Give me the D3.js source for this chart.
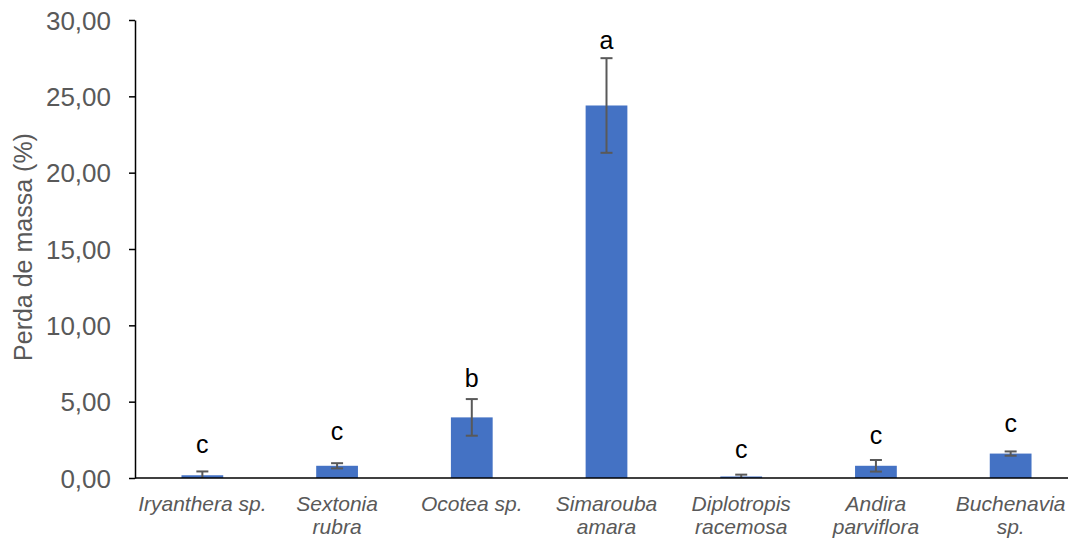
<!DOCTYPE html>
<html><head><meta charset="utf-8">
<script src="https://cdn.jsdelivr.net/npm/d3@7"></script>
<style>body{margin:0;background:#fff}svg{display:block}</style>
</head><body>
<svg id="c" width="1068" height="538"></svg>
<script>
const categories = [["Iryanthera sp."],["Sextonia","rubra"],["Ocotea sp."],["Simarouba","amara"],["Diplotropis","racemosa"],["Andira","parviflora"],["Buchenavia","sp."]];
const means = [0.18, 0.80, 3.97, 24.40, 0.10, 0.80, 1.60];
const errors = [0.25, 0.17, 1.20, 3.10, 0.12, 0.38, 0.14];
const letters = ["c","c","b","a","c","c","c"];
const letterAt = [1.64, 2.49, 5.96, 28.1, 1.31, 2.23, 3.01];
const yTicks = [0,5,10,15,20,25,30];

const svg = d3.select("#c");
const FONT = "Liberation Sans, Arial, sans-serif";
const m = {l:135, r:1078, t:20, b:478};
const x = d3.scaleBand().domain(d3.range(categories.length)).range([m.l, m.r]).paddingInner(0.69).paddingOuter(0.345);
const y = d3.scaleLinear().domain([0,30]).range([m.b, m.t]);
const fmt = v => d3.format(".2f")(v).replace(".", ",");

// bars
svg.selectAll("rect.bar").data(means).join("rect")
  .attr("x",(d,i)=>x(i)).attr("width",x.bandwidth())
  .attr("y",d=>y(d)).attr("height",d=>y(0)-y(d)).attr("fill","#4472C4");

// error bars
const eg = svg.append("g").attr("stroke","#595959").attr("stroke-width",2);
means.forEach((d,i)=>{
  const cx = x(i)+x.bandwidth()/2;
  const lo = Math.max(0, d-errors[i]), hi = d+errors[i];
  eg.append("line").attr("x1",cx).attr("x2",cx).attr("y1",y(lo)).attr("y2",y(hi));
  eg.append("line").attr("x1",cx-6).attr("x2",cx+6).attr("y1",y(hi)).attr("y2",y(hi));
  if (d-errors[i] > 0) eg.append("line").attr("x1",cx-6).attr("x2",cx+6).attr("y1",y(lo)).attr("y2",y(lo));
});

// letters
svg.selectAll("text.let").data(letters).join("text")
  .attr("x",(d,i)=>x(i)+x.bandwidth()/2).attr("y",(d,i)=>y(letterAt[i]))
  .attr("text-anchor","middle").attr("font-family",FONT)
  .attr("font-size",25).attr("fill","#000").text(d=>d);

// y axis
const ya = d3.axisLeft(y).tickValues(yTicks).tickFormat(fmt).tickSize(6).tickSizeOuter(0);
const yg = svg.append("g").attr("transform",`translate(${m.l},0)`).call(ya);
yg.select(".domain").attr("stroke","#000").attr("stroke-width",1.5);
yg.selectAll(".tick line").attr("stroke","#000").attr("stroke-width",1.5);
yg.selectAll(".tick text").attr("font-family",FONT).attr("font-size",26).attr("fill","#595959").attr("x",-24).attr("dy","0.35em");

// x axis line
svg.append("line").attr("x1",m.l).attr("x2",1068).attr("y1",y(0)).attr("y2",y(0)).attr("stroke","#000").attr("stroke-width",1.5);

// category labels
const cl = svg.append("g").attr("font-family",FONT).attr("font-size",21).attr("font-style","italic").attr("fill","#595959").attr("text-anchor","middle");
categories.forEach((lines,i)=>{
  const t = cl.append("text").attr("x",x(i)+x.bandwidth()/2).attr("y",511);
  lines.forEach((s,j)=>t.append("tspan").attr("x",x(i)+x.bandwidth()/2).attr("dy",j?23:0).text(s));
});

// y title
svg.append("text").attr("transform","translate(32,247) rotate(-90)").attr("text-anchor","middle")
  .attr("font-family",FONT).attr("font-size",25).attr("fill","#595959").text("Perda de massa (%)");
</script>
</body></html>
